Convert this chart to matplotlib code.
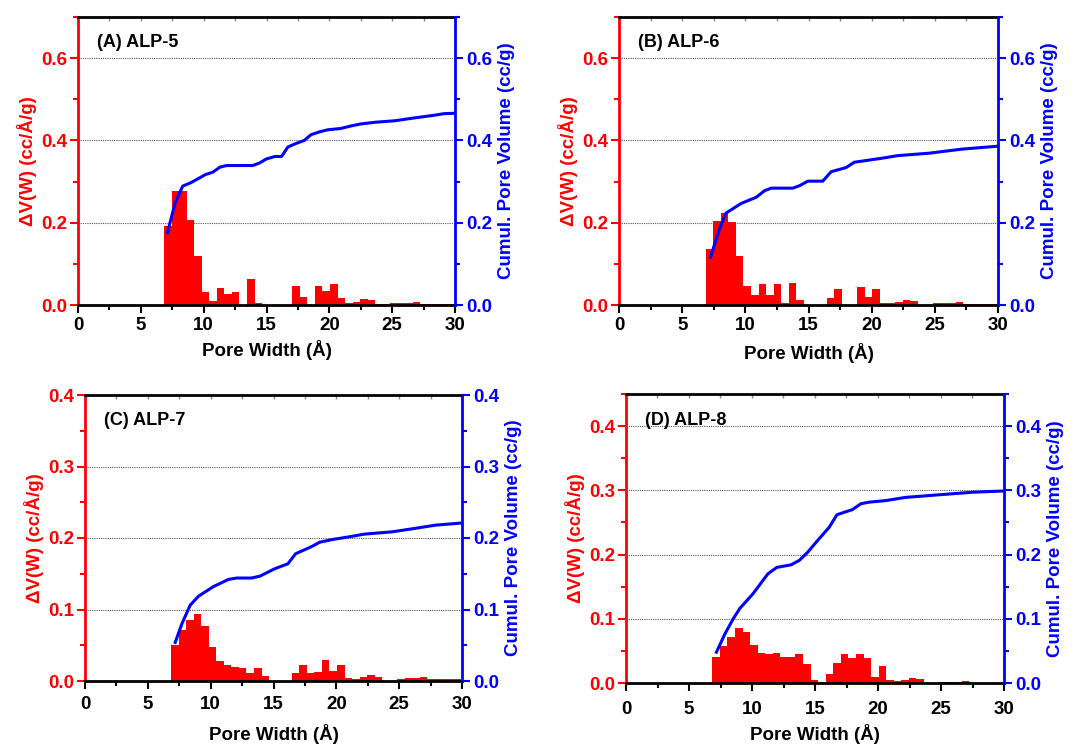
import matplotlib
matplotlib.use("Agg")
import matplotlib.pyplot as plt
from matplotlib.ticker import MultipleLocator

plt.rcParams['font.family'] = ['Liberation Sans', 'DejaVu Sans']
plt.rcParams['font.weight'] = 'bold'

# ---------------- data ----------------
pore_width = [7.15, 7.75, 8.35, 8.95, 9.55, 10.15, 10.75, 11.35, 11.95, 12.55,
              13.15, 13.75, 14.35, 14.95, 15.55, 16.15, 16.75, 17.35, 17.95, 18.55,
              19.15, 19.75, 20.35, 20.95, 21.55, 22.15, 22.75, 23.35, 23.95, 24.55,
              25.15, 25.75, 26.35, 26.95, 27.55, 28.15, 28.75, 29.35, 29.95]

dv_alp5 = [0.192, 0.277, 0.277, 0.207, 0.120, 0.032, 0.0105, 0.042, 0.027, 0.032,
           0.0, 0.062, 0.005, 0.0, 0.0, 0.0, 0.0, 0.045, 0.019, 0.0,
           0.045, 0.033, 0.050, 0.017, 0.006, 0.008, 0.014, 0.011, 0.003, 0.003,
           0.006, 0.006, 0.006, 0.008, 0.003, 0.003, 0.003, 0.003, 0.003]
dv_alp6 = [0.137, 0.205, 0.223, 0.2025, 0.1185, 0.045, 0.025, 0.052, 0.025, 0.050,
           0.006, 0.054, 0.013, 0.0, 0.0, 0.0, 0.018, 0.040, 0.0, 0.0,
           0.043, 0.020, 0.040, 0.006, 0.004, 0.0074, 0.0123, 0.0099, 0.001, 0.001,
           0.005, 0.006, 0.006, 0.0074, 0.0025, 0.0025, 0.0025, 0.0025, 0.0025]
dv_alp7 = [0.051, 0.072, 0.086, 0.094, 0.0775, 0.047, 0.028, 0.022, 0.0196, 0.018,
           0.0117, 0.0177, 0.0065, 0.0, 0.0, 0.0, 0.0117, 0.0224, 0.0107, 0.0126,
           0.030, 0.0145, 0.0224, 0.0037, 0.0033, 0.005, 0.0089, 0.006, 0.0005, 0.0005,
           0.0033, 0.004, 0.004, 0.0056, 0.0023, 0.0023, 0.0023, 0.0023, 0.0023]
dv_alp8 = [0.041, 0.058, 0.072, 0.086, 0.0795, 0.0587, 0.047, 0.045, 0.0468, 0.041,
           0.0405, 0.0457, 0.030, 0.0047, 0.0016, 0.0145, 0.0306, 0.0457, 0.0395, 0.0457,
           0.0395, 0.0099, 0.027, 0.0047, 0.0026, 0.0042, 0.0078, 0.0057, 0.0005, 0.0005,
           0.001, 0.002, 0.002, 0.003, 0.0, 0.0, 0.0005, 0.0005, 0.0005]

cum_w_alp5 = [7.12, 7.73, 8.33, 8.96, 9.5, 10.14, 10.74, 11.29, 11.84, 12.93, 13.9,
              14.44, 14.99, 15.67, 16.2, 16.7, 17.3, 18.0, 18.55, 19.23, 19.9, 20.9,
              21.7, 22.5, 23.6, 25.26, 26.6, 28.3, 29.1, 30.0]
cum_v_alp5 = [0.176, 0.248, 0.289, 0.297, 0.306, 0.317, 0.323, 0.335, 0.339, 0.339, 0.339,
              0.345, 0.355, 0.361, 0.361, 0.384, 0.392, 0.400, 0.414, 0.421, 0.426, 0.429,
              0.435, 0.440, 0.444, 0.448, 0.454, 0.461, 0.465, 0.466]

cum_w_alp6 = [7.24, 7.92, 8.45, 9.68, 10.87, 11.53, 12.05, 13.76, 14.29, 14.95, 16.13,
              16.79, 17.97, 18.63, 20.87, 22.05, 24.55, 27.18, 30.0]
cum_v_alp6 = [0.116, 0.182, 0.223, 0.247, 0.262, 0.278, 0.284, 0.284, 0.290, 0.301, 0.301,
              0.324, 0.334, 0.347, 0.357, 0.363, 0.369, 0.379, 0.386]

cum_w_alp7 = [7.18, 7.71, 8.37, 9.03, 10.22, 11.4, 12.06, 13.25, 13.91, 15.1, 16.15,
              16.76, 18.0, 18.66, 19.72, 21.04, 22.22, 24.47, 26.05, 27.9, 30.0]
cum_v_alp7 = [0.054, 0.080, 0.106, 0.1186, 0.132, 0.142, 0.144, 0.144, 0.1466, 0.157, 0.164,
              0.178, 0.1877, 0.194, 0.198, 0.2017, 0.2054, 0.2087, 0.2129, 0.218, 0.221]

cum_w_alp8 = [7.18, 7.84, 8.5, 9.03, 10.08, 11.26, 11.97, 13.1, 13.76, 14.42, 15.08,
              16.13, 16.74, 17.97, 18.63, 19.29, 20.6, 22.18, 24.8, 27.45, 30.0]
cum_v_alp8 = [0.048, 0.076, 0.0997, 0.116, 0.139, 0.170, 0.180, 0.184, 0.191, 0.2036, 0.219,
              0.2426, 0.262, 0.270, 0.279, 0.2816, 0.284, 0.289, 0.293, 0.297, 0.299]

panel_titles = ['(A) ALP-5', '(B) ALP-6', '(C) ALP-7', '(D) ALP-8']
x_ticks = [0, 5, 10, 15, 20, 25, 30]

# ---------------- layout ----------------
W, H = 1076, 745
fig = plt.figure(figsize=(W / 100, H / 100), dpi=100)

def rect(l, r, t, b):
    return [l / W, (H - b) / H, (r - l) / W, (b - t) / H]

panels = [
    dict(rect=rect(78, 455, 17, 305), dv=dv_alp5, cw=cum_w_alp5, cv=cum_v_alp5,
         ymax=0.7, major=0.2, xlpad=4, xtpad=3),
    dict(rect=rect(619, 998, 17, 305), dv=dv_alp6, cw=cum_w_alp6, cv=cum_v_alp6,
         ymax=0.7, major=0.2, xlpad=6, xtpad=3),
    dict(rect=rect(85, 462, 395, 681), dv=dv_alp7, cw=cum_w_alp7, cv=cum_v_alp7,
         ymax=0.4, major=0.1, xlpad=8, xtpad=5),
    dict(rect=rect(626, 1004, 394, 683), dv=dv_alp8, cw=cum_w_alp8, cv=cum_v_alp8,
         ymax=0.45, major=0.1, xlpad=4, xtpad=7),
]

RED = '#ff0000'
BLUE = '#0000ff'
FS = 13.5

for p, title in zip(panels, panel_titles):
    ax = fig.add_axes(p['rect'])
    ax.bar(pore_width, p['dv'], width=0.6, color=RED, edgecolor='none', zorder=2)
    ax.set_xlim(0, 30)
    ax.set_ylim(0, p['ymax'])
    ax.xaxis.set_major_locator(MultipleLocator(5))
    ax.xaxis.set_minor_locator(MultipleLocator(2.5))
    ax.yaxis.set_major_locator(MultipleLocator(p['major']))
    ax.yaxis.set_minor_locator(MultipleLocator(p['major'] / 2))
    ax.set_xticks(x_ticks)
    ax.yaxis.set_major_formatter(plt.FormatStrFormatter('%.1f'))
    for v in [p['major'] * k for k in range(1, 10)]:
        if v < p['ymax'] - 1e-6:
            ax.axhline(v, color='#555555', lw=0.8, ls=(0, (1, 1)), zorder=1)
    for s in ['top', 'bottom']:
        ax.spines[s].set_color('black')
        ax.spines[s].set_linewidth(2)
    ax.spines['left'].set_color(RED)
    ax.spines['left'].set_linewidth(2)
    ax.spines['right'].set_visible(False)
    ax.tick_params(axis='x', which='major', direction='out', length=6, width=1.5,
                   colors='black', labelsize=FS, pad=p['xtpad'])
    ax.tick_params(axis='x', which='minor', direction='out', length=3.5, width=1.5,
                   colors='black')
    ax.tick_params(axis='y', which='major', direction='out', length=6, width=1.5,
                   colors=RED, labelsize=FS, pad=2)
    ax.tick_params(axis='y', which='minor', direction='out', length=3.5, width=1.5,
                   colors=RED)
    ax.set_xlabel('Pore Width (Å)', fontsize=FS, fontweight='bold', labelpad=p['xlpad'])
    ax.set_ylabel('ΔV(W) (cc/Å/g)', fontsize=FS, fontweight='bold', color=RED, labelpad=3)
    ax.text(0.05, 0.91, title, transform=ax.transAxes, fontsize=13,
            fontweight='bold', va='center', ha='left', color='black')

    # top inward ticks
    top = ax.secondary_xaxis('top')
    top.xaxis.set_major_locator(MultipleLocator(2.5))
    top.tick_params(direction='in', length=3, width=1, colors='#888888', labeltop=False)
    top.spines['top'].set_visible(False)

    ax2 = ax.twinx()
    ax2.plot(p['cw'], p['cv'], color=BLUE, lw=2.2, zorder=3)
    ax2.set_ylim(0, p['ymax'])
    ax2.yaxis.set_major_locator(MultipleLocator(p['major']))
    ax2.yaxis.set_minor_locator(MultipleLocator(p['major'] / 2))
    ax2.yaxis.set_major_formatter(plt.FormatStrFormatter('%.1f'))
    for s in ['left', 'top', 'bottom']:
        ax2.spines[s].set_visible(False)
    ax2.spines['right'].set_color(BLUE)
    ax2.spines['right'].set_linewidth(2)
    ax2.tick_params(axis='y', which='major', direction='out', length=6, width=1.5,
                    colors=BLUE, labelsize=FS, pad=2)
    ax2.tick_params(axis='y', which='minor', direction='out', length=3.5, width=1.5,
                    colors=BLUE)
    ax2.set_ylabel('Cumul. Pore Volume (cc/g)', fontsize=FS, fontweight='bold',
                   color=BLUE, labelpad=4)

fig.savefig('out.png', dpi=100)
